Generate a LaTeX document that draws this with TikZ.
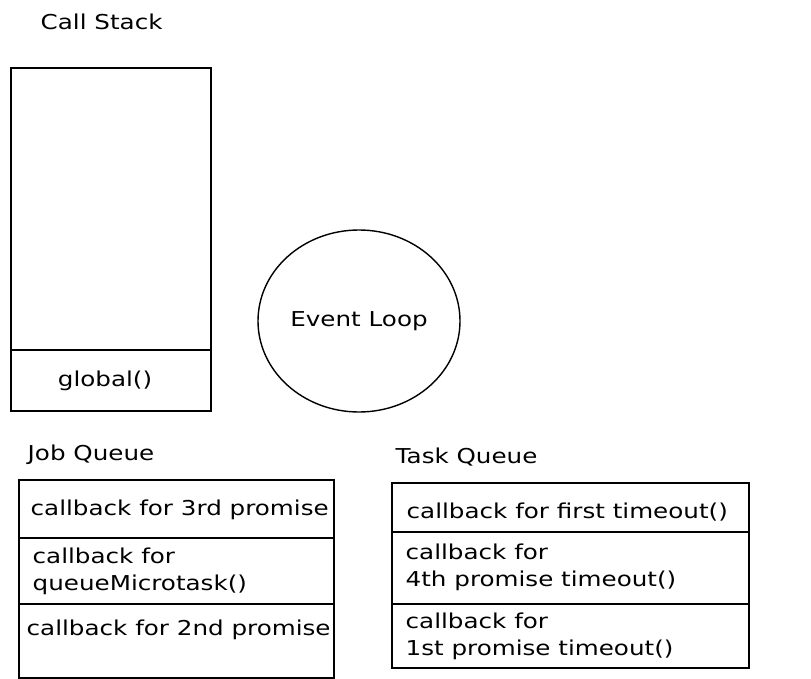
\documentclass[tikz,border=0pt]{standalone}
\usepackage{fontspec}
\setmainfont{DejaVu Sans}[FakeStretch=1.2]
\usetikzlibrary{shapes.geometric,positioning}

\begin{document}
\begin{tikzpicture}[x=1pt, y=-1pt, line width=1.4pt,
   cell_style/.style={rectangle, draw=black, inner sep=0pt},
   text_style/.style={font=\fontsize{20.5}{27}\selectfont, align=left, inner sep=0pt}]
	  \useasboundingbox (0,0) rectangle (811,679);

	  % call stack
	  \node [text_style, anchor=west] (cs) at (40,22) {Call Stack};
	  \node [cell_style, minimum width=200pt, minimum height=282pt] (stack) at (111,209) {};
	  \node [cell_style, minimum width=200pt, minimum height=61pt] (global) at (111,380.5) {};
	  \node [text_style] (g1) at (105,381) {global()};

	  % event loop
	  \node [ellipse, draw=black, minimum width=202pt, minimum height=182pt, text_style] (loop) at (359,321) {Event Loop};

	  % job queue
	  \node [text_style, anchor=west] (jq) at (27,455) {Job Queue};
	  \foreach \name/\y/\h in {j1/509/58, j2/571/66, j3/641/74}
	    \node [cell_style, minimum width=315pt, minimum height=\h pt] (\name) at (176.5,\y) {};
	  \node [text_style, anchor=west] (jt1) at (30,510) {callback for 3rd promise};
	  \node [text_style, anchor=west] (jt2) at (32,571) {callback for\\queueMicrotask()};
	  \node [text_style, anchor=west] (jt3) at (26,630) {callback for 2nd promise};

	  % task queue
	  \node [text_style, anchor=west] (tq) at (395,457) {Task Queue};
	  \foreach \name/\y/\h in {t1/507.5/49, t2/568/72, t3/636/64}
	    \node [cell_style, minimum width=357pt, minimum height=\h pt] (\name) at (570.5,\y) {};
	  \node [text_style, anchor=west] (tt1) at (406,512) {callback for first timeout()};
	  \node [text_style, anchor=west] (tt2) at (405,567) {callback for\\4th promise timeout()};
	  \node [text_style, anchor=west] (tt3) at (405,636) {callback for\\1st promise timeout()};

	\end{tikzpicture}
\end{document}
